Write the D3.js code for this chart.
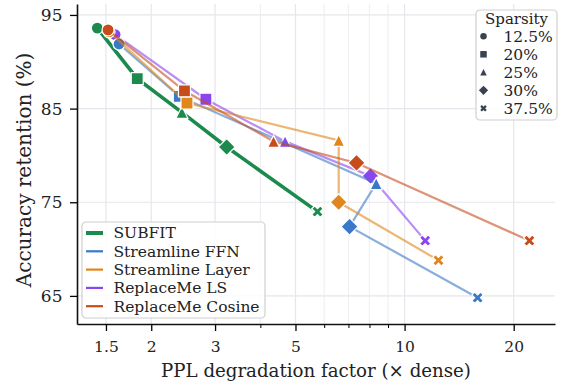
<!DOCTYPE html>
<html>
<head>
<meta charset="utf-8">
<script src="https://cdn.jsdelivr.net/npm/d3@7"></script>
<style>
  body { margin: 0; background: #fff; }
  text { font-family: "DejaVu Serif", serif; fill: #222; }
</style>
</head>
<body>
<div id="chart"></div>
<script>
/* DATA */
const methods = ["SUBFIT", "Streamline FFN", "Streamline Layer", "ReplaceMe LS", "ReplaceMe Cosine"];
const sparsity = ["12.5%", "20%", "25%", "30%", "37.5%"];

// PPL degradation factor per sparsity level (same order as sparsity)
const pplSubfit  = [1.42, 1.83, 2.43, 3.23, 5.75];
const pplFFN     = [1.63, 2.39, 8.35, 7.05, 15.9];
const pplLayer   = [1.53, 2.51, 6.58, 6.58, 12.4];
const pplLS      = [1.59, 2.83, 4.68, 8.05, 11.4];
const pplCosine  = [1.52, 2.47, 4.35, 7.37, 22.1];

// accuracy retention (%)
const accSubfit  = [93.6, 88.2, 84.6, 80.9, 74.0];
const accFFN     = [91.9, 86.3, 77.0, 72.4, 64.8];
const accLayer   = [93.2, 85.6, 81.6, 75.0, 68.8];
const accLS      = [92.9, 86.0, 81.5, 77.8, 70.9];
const accCosine  = [93.4, 86.9, 81.5, 79.2, 70.9];

const xTicks = [1.5, 2, 3, 4, 5, 6, 7, 8, 9, 10, 20];
const xLabels = [1.5, 2, 3, 5, 10, 20];
const yTicks = [65, 75, 85, 95];

/* CONSTANTS */
const width = 565, height = 385;
const margin = {top: 4, right: 10, bottom: 61, left: 77};
const colors = ["#1b8a4c", "#3b78c6", "#e0861c", "#8a45ef", "#c84b1b"];
const drawOrder = [0, 3, 1, 2, 4];
const legendFont = 15.5;

const series = [
  {ppl: pplSubfit, acc: accSubfit},
  {ppl: pplFFN, acc: accFFN},
  {ppl: pplLayer, acc: accLayer},
  {ppl: pplLS, acc: accLS},
  {ppl: pplCosine, acc: accCosine}
].map((s, i) => ({
  name: methods[i],
  color: colors[i],
  points: s.ppl.map((p, j) => ({ppl: p, acc: s.acc[j], level: j}))
}));

/* MARKER SHAPES (matplotlib-like, size = marker width in px) */
const mCircle = {draw(ctx, m) { ctx.moveTo(m / 2, 0); ctx.arc(0, 0, m / 2, 0, 2 * Math.PI); }};
const mSquare = {draw(ctx, m) { ctx.rect(-m / 2, -m / 2, m, m); }};
const mTriangle = {draw(ctx, m) {
  ctx.moveTo(0, -m / 2); ctx.lineTo(m / 2, m / 2); ctx.lineTo(-m / 2, m / 2); ctx.closePath();
}};
const mDiamond = {draw(ctx, m) {
  const d = m * 0.707;
  ctx.moveTo(0, -d); ctx.lineTo(d, 0); ctx.lineTo(0, d); ctx.lineTo(-d, 0); ctx.closePath();
}};
const mX = {draw(ctx, m) {
  const pts = [[0.25,0],[0.5,0.25],[0.75,0],[1,0.25],[0.75,0.5],[1,0.75],[0.75,1],[0.5,0.75],[0.25,1],[0,0.75],[0.25,0.5],[0,0.25]];
  pts.forEach((p, i) => {
    const x = (p[0] - 0.5) * m, y = (p[1] - 0.5) * m;
    i ? ctx.lineTo(x, y) : ctx.moveTo(x, y);
  });
  ctx.closePath();
}};
const shapes = [mCircle, mSquare, mTriangle, mDiamond, mX];

/* SCALES */
const x = d3.scaleLog()
  .domain([1.248, 26])
  .range([margin.left, width - margin.right]);

const y = d3.scaleLinear()
  .domain([62.0, 96.17])
  .range([height - margin.bottom, margin.top]);

/* SVG */
const svg = d3.select("#chart")
  .append("svg")
  .attr("width", width)
  .attr("height", height);

// grid
svg.append("g")
  .selectAll("line")
  .data(xTicks)
  .join("line")
  .attr("x1", d => x(d)).attr("x2", d => x(d))
  .attr("y1", margin.top).attr("y2", height - margin.bottom)
  .attr("stroke", d => xLabels.includes(d) ? "#e6e6ec" : "#f0f0f4")
  .attr("stroke-width", 1.2);

svg.append("g")
  .selectAll("line")
  .data(yTicks)
  .join("line")
  .attr("x1", margin.left).attr("x2", width - margin.right)
  .attr("y1", d => y(d)).attr("y2", d => y(d))
  .attr("stroke", "#e6e6ec")
  .attr("stroke-width", 1.2);

// axes
const xAxis = d3.axisBottom(x)
  .tickValues(xTicks)
  .tickFormat(d => xLabels.includes(d) ? d3.format("")(d) : "")
  .tickSizeOuter(0);

const gx = svg.append("g")
  .attr("transform", `translate(0,${height - margin.bottom})`)
  .call(xAxis);
gx.selectAll(".tick line")
  .attr("y2", d => xLabels.includes(d) ? 7 : 4)
  .attr("stroke-width", d => xLabels.includes(d) ? 1.3 : 1);
gx.selectAll(".tick text").attr("y", 17).attr("font-size", 15.5);

const gy = svg.append("g")
  .attr("transform", `translate(${margin.left},0)`)
  .call(d3.axisLeft(y).tickValues(yTicks).tickSize(7).tickSizeOuter(0));
gy.selectAll(".tick line").attr("stroke-width", 1.3);
gy.selectAll(".tick text").attr("x", -14.5).attr("font-size", 17);

[gx, gy].forEach(g => {
  g.select(".domain").attr("stroke", "#111").attr("stroke-width", 1.6);
  g.selectAll(".tick text").attr("fill", "#222");
});

// axis labels
svg.append("text")
  .attr("x", (margin.left + width - margin.right) / 2)
  .attr("y", 377)
  .attr("text-anchor", "middle")
  .attr("font-size", 18.2)
  .text("PPL degradation factor (× dense)");

svg.append("text")
  .attr("transform", `translate(31,170) rotate(-90)`)
  .attr("text-anchor", "middle")
  .attr("font-size", 20)
  .text("Accuracy retention (%)");

/* LINES + MARKERS */
const line = d3.line().x(d => x(d.ppl)).y(d => y(d.acc));
const sym = d3.symbol();

drawOrder.forEach(i => {
  const s = series[i];
  const g = svg.append("g");
  g.append("path")
    .attr("d", line(s.points))
    .attr("fill", "none")
    .attr("stroke", s.color)
    .attr("stroke-width", i === 0 ? 3.6 : 2.2)
    .attr("stroke-opacity", i === 0 ? 1 : 0.6);
  g.selectAll("path.mk")
    .data(s.points)
    .join("path")
    .attr("class", "mk")
    .attr("transform", d => `translate(${x(d.ppl)},${y(d.acc)})`)
    .attr("d", d => sym.type(shapes[d.level]).size(d.level === 4 ? 11.5 : 12)())
    .attr("fill", s.color)
    .attr("stroke", "#fff")
    .attr("stroke-width", 1.2);
});

/* LEGEND: methods */
const lg = svg.append("g").attr("transform", "translate(82,222)");
lg.append("rect")
  .attr("width", 183).attr("height", 96)
  .attr("rx", 4)
  .attr("fill", "#fff").attr("fill-opacity", 0.85)
  .attr("stroke", "#d0d0d0").attr("stroke-width", 1.2);
const li = lg.selectAll("g.item")
  .data(series)
  .join("g")
  .attr("class", "item")
  .attr("transform", (d, i) => `translate(0,${11 + i * 18.3})`);
li.append("line")
  .attr("x1", 4).attr("x2", 21)
  .attr("stroke", d => d.color)
  .attr("stroke-width", (d, i) => i === 0 ? 4 : 2.2);
li.append("text")
  .attr("x", 31.5).attr("dy", "0.35em")
  .attr("font-size", legendFont)
  .text(d => d.name);

/* LEGEND: sparsity */
const sg = svg.append("g").attr("transform", "translate(476,10)");
sg.append("rect")
  .attr("width", 81).attr("height", 110)
  .attr("rx", 4)
  .attr("fill", "#fff").attr("fill-opacity", 0.85)
  .attr("stroke", "#d0d0d0").attr("stroke-width", 1.2);
sg.append("text")
  .attr("x", 40.5).attr("y", 8.8).attr("dy", "0.35em")
  .attr("text-anchor", "middle")
  .attr("font-size", 15)
  .text("Sparsity");
const si = sg.selectAll("g.item")
  .data(sparsity)
  .join("g")
  .attr("class", "item")
  .attr("transform", (d, i) => `translate(0,${26.3 + i * 18})`);
si.append("path")
  .attr("transform", "translate(7.5,0)")
  .attr("d", (d, i) => sym.type(shapes[i]).size(6.5)())
  .attr("fill", "#3a4150");
si.append("text")
  .attr("x", 27.5).attr("dy", "0.35em")
  .attr("font-size", legendFont)
  .text(d => d);
</script>
</body>
</html>
